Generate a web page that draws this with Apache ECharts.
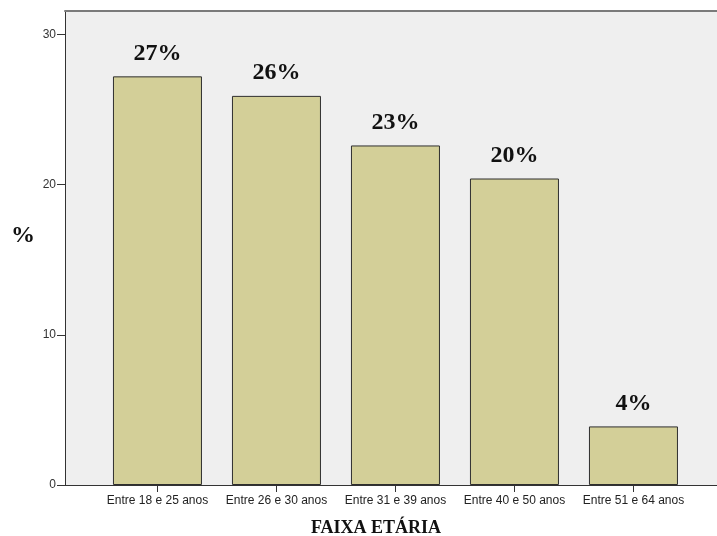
<!DOCTYPE html>
<html>
<head>
<meta charset="utf-8">
<script src="https://cdn.jsdelivr.net/npm/echarts@6/dist/echarts.min.js"></script>
<style>
  html, body { margin: 0; padding: 0; background: #ffffff; }
  #chart { width: 717px; height: 536px; }
</style>
</head>
<body>
<div id="chart"></div>
<script>
// Age bands and share of respondents (%)
const categories = ['Entre 18 e 25 anos', 'Entre 26 e 30 anos', 'Entre 31 e 39 anos', 'Entre 40 e 50 anos', 'Entre 51 e 64 anos'];
const percents = [27.2, 25.9, 22.6, 20.4, 3.9];
const positions = [1, 2, 3, 4, 5];
const yTicks = [0, 10, 20, 30];

const serif = '"Liberation Serif", "Times New Roman", serif';
const sans = '"Liberation Sans", Arial, sans-serif';

const chart = echarts.init(document.getElementById('chart'), null, { renderer: 'canvas' });

chart.setOption({
  animation: false,
  backgroundColor: '#ffffff',
  grid: {
    left: 65,
    top: 11,
    width: 652,
    height: 474,
    outerBoundsMode: 'none',
    containLabel: false,
    show: true,
    backgroundColor: '#efefef',
    borderWidth: 0
  },
  xAxis: [{
    type: 'value',
    min: 0.223,
    max: 5.702,
    splitLine: { show: false },
    axisLine: { show: true, onZero: false, lineStyle: { color: '#333', width: 1 } },
    axisTick: {
      show: true,
      customValues: positions,
      length: 7,
      lineStyle: { color: '#333' }
    },
    axisLabel: {
      customValues: positions,
      formatter: (v) => categories[Math.round(v) - 1] || '',
      color: '#222',
      fontFamily: sans,
      fontSize: 12,
      margin: 10
    },
    name: 'FAIXA ETÁRIA',
    nameLocation: 'middle',
    nameGap: 34,
    nameTextStyle: {
      fontFamily: serif,
      fontWeight: 'bold',
      fontSize: 18,
      color: '#111',
      padding: [0, 30, 0, 0]
    }
  }, {
    // frame line along the top of the plot area
    type: 'value',
    position: 'top',
    min: 0.223,
    max: 5.702,
    splitLine: { show: false },
    axisLine: { show: true, onZero: false, lineStyle: { color: '#7a7a7a', width: 2 } },
    axisTick: { show: false },
    axisLabel: { show: false }
  }],
  yAxis: {
    type: 'value',
    min: 0,
    max: 31.55,
    interval: 10,
    splitLine: { show: false },
    axisLine: { show: true, lineStyle: { color: '#333', width: 1 } },
    axisTick: {
      show: true,
      customValues: yTicks,
      length: 8,
      lineStyle: { color: '#333' }
    },
    axisLabel: {
      customValues: yTicks,
      color: '#333',
      fontFamily: sans,
      fontSize: 12,
      margin: 9
    },
    name: '%',
    nameLocation: 'middle',
    nameRotate: 0,
    nameGap: 30,
    nameTextStyle: {
      fontFamily: serif,
      fontWeight: 'bold',
      fontSize: 24,
      color: '#111',
      verticalAlign: 'bottom'
    }
  },
  series: [{
    type: 'bar',
    xAxisIndex: 0,
    barWidth: 89,
    data: positions.map((p, i) => [p, percents[i]]),
    itemStyle: {
      color: '#d3cf98',
      borderColor: '#2e2e2e',
      borderWidth: 1
    },
    label: {
      show: true,
      position: 'top',
      distance: 11,
      formatter: (p) => Math.round(p.value[1]) + '%',
      fontFamily: serif,
      fontWeight: 'bold',
      fontSize: 24,
      color: '#111'
    }
  }]
});
</script>
</body>
</html>
